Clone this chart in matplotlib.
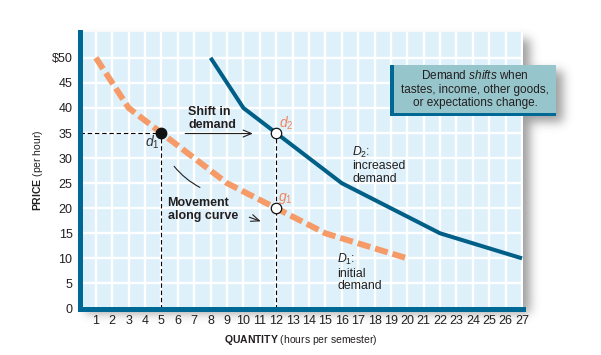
import numpy as np
import matplotlib
matplotlib.use("Agg")
import matplotlib.pyplot as plt
from matplotlib.patches import Rectangle

# ---------------- data ----------------
d1_qty = [1, 3, 5, 9, 12, 15, 20]
d1_price = [50, 40, 35, 25, 20, 15, 10]
d2_qty = [8, 10, 12, 16, 22, 27]
d2_price = [50, 40, 35, 25, 15, 10]
x_ticks = list(range(1, 28))
y_ticks = [0, 5, 10, 15, 20, 25, 30, 35, 40, 45, 50]
y_tick_labels = ["0", "5", "10", "15", "20", "25", "30", "35", "40", "45", r"\$50"]
pt_d1 = (5, 35)
pt_d2 = (12, 35)
pt_g1 = (12, 20)

# ---------------- style ----------------
plt.rcParams["font.family"] = ["Liberation Sans", "DejaVu Sans"]
plt.rcParams["mathtext.fontset"] = "custom"
plt.rcParams["mathtext.rm"] = "Liberation Sans"
plt.rcParams["mathtext.it"] = "Liberation Sans:italic"
plt.rcParams["mathtext.bf"] = "Liberation Sans:bold"
plt.rcParams["mathtext.sf"] = "Liberation Sans"

TEAL = "#005f87"
SPINE = "#006894"
ORANGE = "#f69a68"
ORANGE_TXT = "#f0855a"
BG = "#def1fb"
BOX = "#97c5cc"
TXT = "#231f20"

W, H = 601, 355
fig = plt.figure(figsize=(W / 100, H / 100), dpi=100)

# ---------------- shadows (back layer) ----------------
def blur(a, s):
    r = int(3 * s)
    xk = np.arange(-r, r + 1)
    k = np.exp(-xk ** 2 / (2 * s * s))
    k /= k.sum()
    a = np.apply_along_axis(lambda v: np.convolve(v, k, mode="same"), 1, a)
    a = np.apply_along_axis(lambda v: np.convolve(v, k, mode="same"), 0, a)
    return a

mask = np.zeros((H, W))
mask[32 + 7:308 + 5, 79 + 7:523 + 7] = 1
mask[65 + 6:116 + 6, 390 + 6:556 + 7] = 1
sh = blur(mask, 5.0)
rgba = np.zeros((H, W, 4))
rgba[..., :3] = 0.25
rgba[..., 3] = np.clip(sh * 0.5, 0, 1)
bax = fig.add_axes([0, 0, 1, 1], zorder=-1)
bax.imshow(rgba, extent=(0, W, H, 0), aspect="auto", interpolation="bilinear")
bax.set_xlim(0, W)
bax.set_ylim(H, 0)
bax.axis("off")

# ---------------- main axes ----------------
L, R, T, B = 79.5, 523, 32, 308.5
ax = fig.add_axes([L / W, 1 - B / H, (R - L) / W, (B - T) / H], zorder=1)
ax.set_facecolor(BG)
ax.set_xlim(0, 27.06)
ax.set_ylim(0, 55.15)
ax.set_xticks(x_ticks)
ax.set_xticklabels([str(v) for v in x_ticks])
ax.set_yticks(y_ticks)
ax.set_yticklabels(y_tick_labels)
ax.tick_params(length=0, labelsize=9, colors=TXT)
ax.tick_params(axis="x", pad=5)
ax.tick_params(axis="y", pad=5)
ax.grid(True, color="white", lw=1.7)
ax.set_axisbelow(True)
for s in ["top", "right"]:
    ax.spines[s].set_visible(False)
for s in ["left", "bottom"]:
    ax.spines[s].set_linewidth(3.6)
    ax.spines[s].set_color(SPINE)
    ax.spines[s].set_zorder(5)

ax.set_xlabel(r"$\mathbf{QUANTITY}$ (hours per semester)", fontsize=7.5, color=TXT, labelpad=4)
ax.set_ylabel(r"$\mathbf{PRICE}$ (per hour)", fontsize=7.5, color=TXT, labelpad=5)

# reference dashed lines
ax.plot([0, pt_d1[0]], [pt_d1[1], pt_d1[1]], color="black", lw=0.8, ls=(0, (4, 2.5)), zorder=2)
ax.plot([pt_d1[0], pt_d1[0]], [0, pt_d1[1]], color="black", lw=0.8, ls=(0, (4, 2.5)), zorder=2)
ax.plot([pt_d2[0], pt_d2[0]], [0, pt_d2[1]], color="black", lw=0.8, ls=(0, (4, 2.5)), zorder=2)

# demand curves
ax.plot(d1_qty, d1_price, color=ORANGE, lw=4.3, ls=(0, (2.2, 0.85)),
        solid_capstyle="butt", dash_capstyle="butt", zorder=3)
ax.plot(d2_qty, d2_price, color=TEAL, lw=2.9, solid_joinstyle="miter",
        solid_capstyle="butt", zorder=3)

# points
ax.plot(*pt_d1, "o", ms=7.5, mfc="#111111", mec="#111111", zorder=6)
ax.plot(*pt_d2, "o", ms=7.5, mfc="white", mec="#111111", mew=0.9, zorder=6)
ax.plot(*pt_g1, "o", ms=7.5, mfc="white", mec="#111111", mew=0.9, zorder=6)

# point labels
ax.text(4.47, 33.2, r"$d_{\mathrm{1}}$", fontsize=10, color="#333333", ha="center", va="center", zorder=7)
ax.text(12.63, 36.9, r"$d_{\mathrm{2}}$", fontsize=10, color=ORANGE_TXT, ha="center", va="center", zorder=7)
ax.text(12.56, 22.0, r"$g_{\mathrm{1}}$", fontsize=10, color=ORANGE_TXT, ha="center", va="center", zorder=7)

# annotations
ax.text(6.65, 37.95, "Shift in\ndemand", fontsize=9, fontweight="bold", color=TXT,
        ha="left", va="center", linespacing=1.1, zorder=7)
ax.annotate("", xy=(10.75, 34.9), xytext=(6.28, 34.9),
            arrowprops=dict(arrowstyle="->,head_length=0.6,head_width=0.25", lw=0.8, color=TXT), zorder=7)
ax.text(5.37, 19.7, "Movement\nalong curve", fontsize=9, fontweight="bold", color=TXT,
        ha="left", va="center", linespacing=1.1, zorder=7)
ax.annotate("", xy=(11.22, 17.2), xytext=(10.2, 18.4),
            arrowprops=dict(arrowstyle="->,head_length=0.6,head_width=0.25", lw=0.8, color=TXT), zorder=7)
ax.annotate("", xy=(7.5, 23.9), xytext=(5.67, 28.8),
            arrowprops=dict(arrowstyle="-", connectionstyle="arc3,rad=0.12", lw=0.8, color=TXT), zorder=7)

ax.text(16.64, 28.65, "$\\mathit{D}_{\\mathrm{2}}$:\nincreased\ndemand", fontsize=8.8, color=TXT,
        ha="left", va="center", linespacing=1.05, zorder=7)
ax.text(15.73, 7.25, "$\\mathit{D}_{\\mathrm{1}}$:\ninitial\ndemand", fontsize=8.8, color=TXT,
        ha="left", va="center", linespacing=1.05, zorder=7)

# ---------------- callout box (top layer) ----------------
tax = fig.add_axes([0, 0, 1, 1], zorder=3)
tax.set_xlim(0, W)
tax.set_ylim(H, 0)
tax.axis("off")
tax.patch.set_alpha(0)
tax.add_patch(Rectangle((390, 65), 166, 51, facecolor=BOX, edgecolor="none"))
tax.add_patch(Rectangle((390, 65), 4, 51, facecolor=SPINE, edgecolor="none"))
tax.add_patch(Rectangle((390, 112.5), 166, 3.5, facecolor=SPINE, edgecolor="none"))
tax.text(475, 89, "Demand $\\mathit{shifts}$ when\ntastes, income, other goods,\nor expectations change.",
         fontsize=8.5, color=TXT, ha="center", va="center", linespacing=1.15)

fig.savefig("out.png", dpi=100)
